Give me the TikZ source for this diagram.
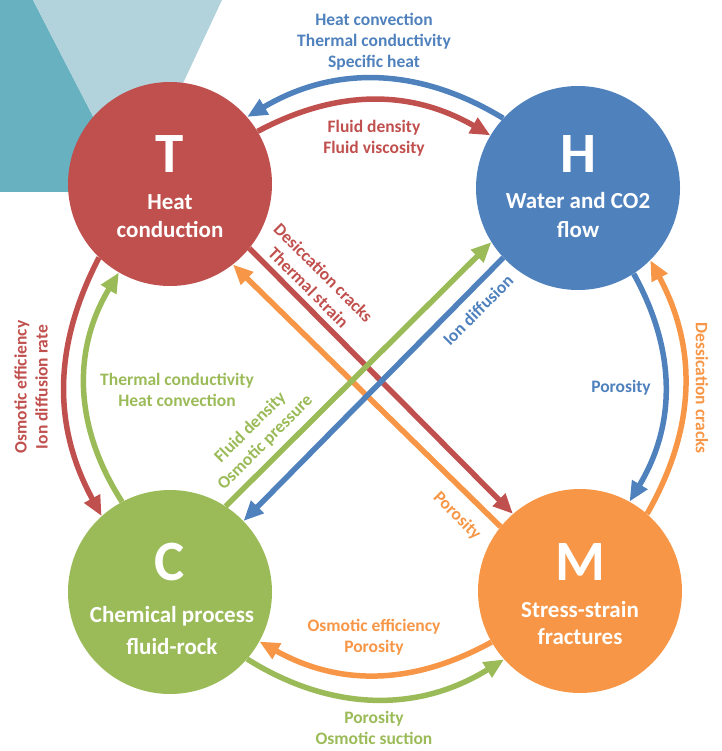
\documentclass[tikz,border=0pt]{standalone}
\usepackage{fontspec}
\setmainfont{Carlito}
\usetikzlibrary{arrows.meta}
\definecolor{cred}{HTML}{C0504D}
\definecolor{cblue}{HTML}{4F81BD}
\definecolor{cgreen}{HTML}{9BBB59}
\definecolor{corange}{HTML}{F79646}
\definecolor{tealdark}{HTML}{68B1C0}
\definecolor{teallight}{HTML}{B2D3DC}
\begin{document}
\begin{tikzpicture}[x=1pt,y=-1pt,
  proc/.style={circle,minimum size=204pt,inner sep=0pt,draw=none},
  big/.style={text=white,font=\fontsize{57}{60}\selectfont\bfseries,inner sep=0pt,anchor=base},
  ctext/.style={text=white,font=\fontsize{23}{28}\selectfont\bfseries,inner sep=0pt,anchor=base},
  lab/.style={font=\fontsize{17.5}{21}\selectfont\bfseries,inner sep=0pt,align=center},
  arr/.style={line width=5.5pt,-{Triangle[length=20pt,width=17pt]}},
]
\useasboundingbox (0,0) rectangle (721,751);
% background decoration
\fill[tealdark] (0,0) -- (33,0) -- (132,192) -- (0,192) -- cycle;
\fill[teallight] (33,0) -- (222,0) -- (132,192) -- cycle;
% process circles
\node[proc,fill=cred] (T) at (170,184) {};
\node[proc,fill=cblue] (H) at (578,188) {};
\node[proc,fill=cgreen] (C) at (170,592) {};
\node[proc,fill=corange] (M) at (580,591) {};
% circle texts
\node[big] (Tl) at (170,173) {T};
\node[ctext] (Ta) at (170,209) {Heat};
\node[ctext] (Tb) at (170,237) {conduction};
\node[big] (Hl) at (578,173) {H};
\node[ctext] (Ha) at (578,208) {Water and CO2};
\node[ctext] (Hb) at (578,237) {flow};
\node[big] (Cl) at (170,580) {C};
\node[ctext] (Ca) at (172,622) {Chemical process};
\node[ctext] (Cb) at (172,654) {fluid-rock};
\node[big] (Ml) at (580,580) {M};
\node[ctext] (Ma) at (580,617) {Stress-strain};
\node[ctext] (Mb) at (580,644) {fractures};
% arcs
\draw[arr,cblue] (H.137) to[bend right=31] (T.41);
\draw[arr,cred] (T.31) to[bend left=29] (H.149);
\draw[arr,cred] (T.226) to[bend right=28] (C.132);
\draw[arr,cgreen] (C.118) to[bend left=32] (T.240);
\draw[arr,cblue] (H.303) to[bend left=30] (M.61);
\draw[arr,corange] (M.49) to[bend right=29] (H.315);
\draw[arr,corange] (M.210) to[bend left=29] (C.331);
\draw[arr,cgreen] (C.319) to[bend right=32] (M.222);
% diagonals
\draw[arr,cred] (T.-39) -- (M.131);
\draw[arr,corange] (M.141) -- (T.-52);
\draw[arr,cgreen] (C.57) -- (H.212);
\draw[arr,cblue] (H.223) -- (C.44);
% labels
\node[lab,text=cblue] (lhtop) at (374,42) {Heat convection\\Thermal conductivity\\Specific heat};
\node[lab,text=cred] (ltop) at (374,138) {Fluid density\\Fluid viscosity};
\node[lab,text=cred,rotate=90] (lleft) at (31,387) {Osmotic efficiency\\Ion diffusion rate};
\node[lab,text=cgreen] (lgl) at (177,390) {Thermal conductivity\\Heat convection};
\node[lab,text=cblue] (lpor) at (621,388) {Porosity};
\node[lab,text=corange,rotate=-90] (lright) at (702,388) {Dessication cracks};
\node[lab,text=corange] (lbo) at (374,637) {Osmotic efficiency\\Porosity};
\node[lab,text=cgreen] (lbg) at (374,728) {Porosity\\Osmotic suction};
\node[lab,text=cred,rotate=-45] (ldr) at (316,280) {Desiccation cracks\\Thermal strain};
\node[lab,text=cgreen,rotate=45] (ldg) at (258,435) {Fluid density\\Osmotic pressure};
\node[lab,text=cblue,rotate=45] (ldb) at (478,310) {Ion diffusion};
\node[lab,text=corange,rotate=-45] (ldo) at (457,516) {Porosity};
\end{tikzpicture}
\end{document}
